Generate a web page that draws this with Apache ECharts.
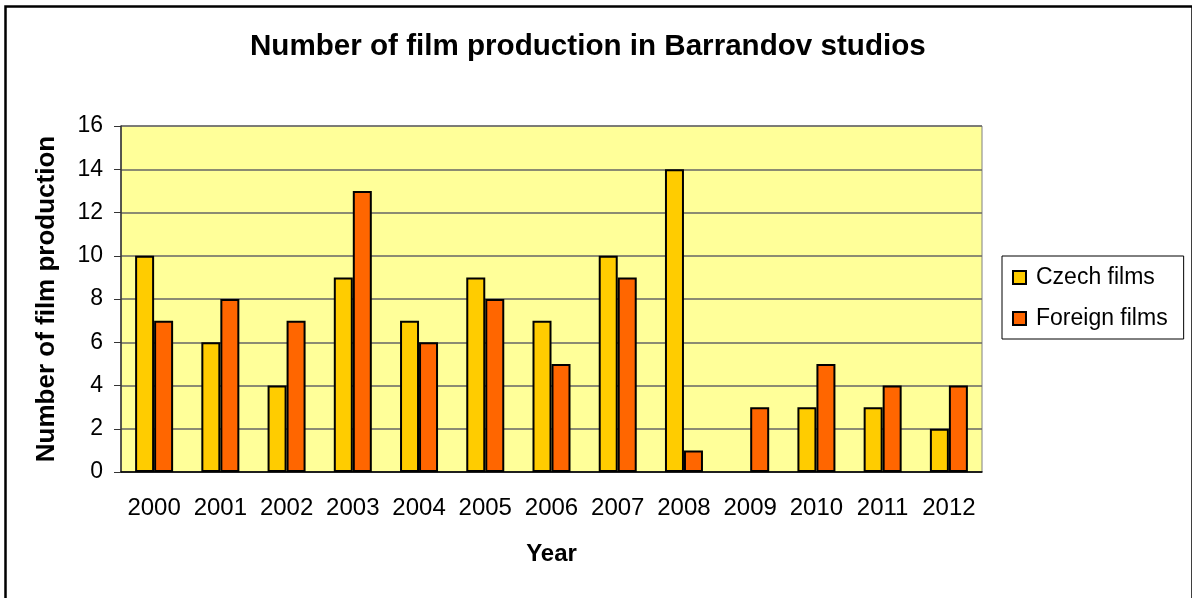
<!DOCTYPE html>
<html>
<head>
<meta charset="utf-8">
<script src="https://cdn.jsdelivr.net/npm/echarts@6/dist/echarts.min.js"></script>
<style>
  html, body { margin: 0; padding: 0; background: #fff; }
  #main { width: 1192px; height: 598px; }
</style>
</head>
<body>
<div id="main"></div>
<script>
// film production data
var years = ['2000', '2001', '2002', '2003', '2004', '2005', '2006', '2007', '2008', '2009', '2010', '2011', '2012'];
var czechFilms = [10, 6, 4, 9, 7, 9, 7, 10, 14, null, 3, 3, 2];
var foreignFilms = [7, 8, 7, 13, 6, 8, 5, 9, 1, 3, 5, 4, 4];
var yTicks = { min: 0, max: 16, interval: 2 };

var fontFam = '"Liberation Sans", Arial, sans-serif';
var chart = echarts.init(document.getElementById('main'));

chart.setOption({
  animation: false,
  backgroundColor: '#fff',
  title: {
    text: 'Number of film production in Barrandov studios',
    left: 245,
    top: 27,
    textStyle: { fontFamily: fontFam, fontSize: 29.6, fontWeight: 'bold', color: '#000' }
  },
  legend: {
    orient: 'vertical',
    left: 1002,
    top: 256,
    padding: [10, 16, 9, 10],
    itemGap: 18,
    itemWidth: 13,
    itemHeight: 13,
    icon: 'rect',
    borderColor: '#000',
    borderWidth: 1,
    textStyle: { fontFamily: fontFam, fontSize: 23, color: '#000', padding: [0, 0, 0, 5] },
    data: ['Czech films', 'Foreign films']
  },
  grid: {
    left: 121, right: 210, top: 126, bottom: 126,
    show: true,
    backgroundColor: '#FFFF99',
    borderColor: '#808080',
    borderWidth: 1
  },
  xAxis: {
    type: 'category',
    data: years,
    name: 'Year',
    nameLocation: 'middle',
    nameGap: 70,
    nameTextStyle: { fontFamily: fontFam, fontSize: 24, fontWeight: 'bold', color: '#000' },
    axisLine: { lineStyle: { color: '#000', width: 1.5 } },
    axisTick: { length: 7, lineStyle: { color: '#000' } },
    axisLabel: { interval: 0, margin: 24, fontFamily: fontFam, fontSize: 24, color: '#000' }
  },
  yAxis: {
    type: 'value',
    min: yTicks.min,
    max: yTicks.max,
    interval: yTicks.interval,
    name: 'Number of film production',
    nameLocation: 'middle',
    nameGap: 61,
    nameTextStyle: { fontFamily: fontFam, fontSize: 26, fontWeight: 'bold', color: '#000' },
    axisLine: { show: true, lineStyle: { color: '#333', width: 1.5 } },
    axisTick: { show: true, length: 7, lineStyle: { color: '#333' } },
    axisLabel: { margin: 18, fontFamily: fontFam, fontSize: 23, color: '#000' },
    splitLine: { lineStyle: { color: '#666', width: 1.5 } }
  },
  series: [
    {
      name: 'Czech films',
      type: 'bar',
      data: czechFilms,
      barWidth: 19,
      barGap: '0%',
      itemStyle: { color: '#FFCC00', borderColor: '#000', borderWidth: 2 }
    },
    {
      name: 'Foreign films',
      type: 'bar',
      data: foreignFilms,
      barWidth: 19,
      barGap: '0%',
      itemStyle: { color: '#FF6600', borderColor: '#000', borderWidth: 2 }
    }
  ],
  graphic: [{
    type: 'rect',
    left: 3, top: 4,
    shape: { width: 1187, height: 600 },
    style: { fill: 'none', stroke: '#000', lineWidth: 2.5 },
    silent: true
  }]
});
</script>
</body>
</html>
